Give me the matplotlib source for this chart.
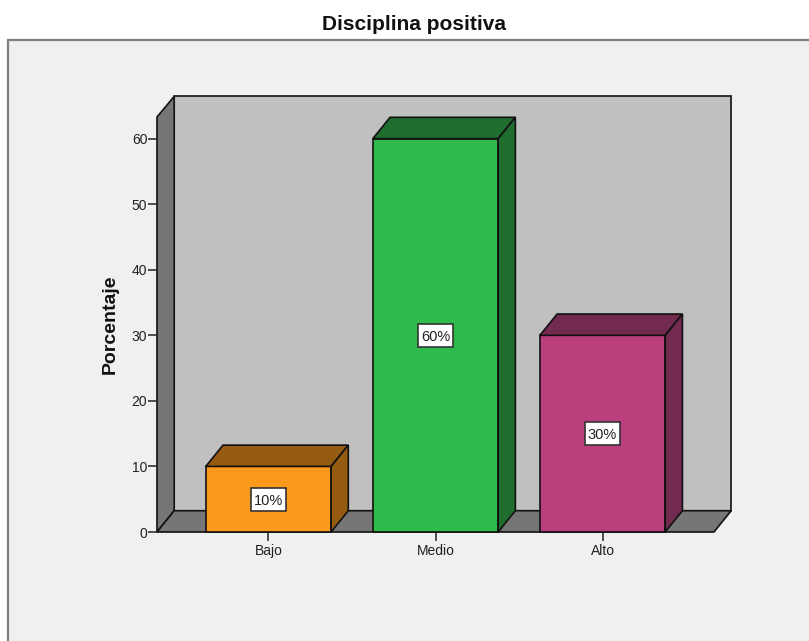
import matplotlib
matplotlib.use('Agg')
import matplotlib.pyplot as plt
from matplotlib.patches import Polygon, Rectangle

categorias = ['Bajo', 'Medio', 'Alto']
porcentajes = [10, 60, 30]
etiquetas = ['10%', '60%', '30%']
yticks = [0, 10, 20, 30, 40, 50, 60]
colores = ['#fb991c', '#2fba4c', '#ba3f7c']
oscuros = ['#955b11', '#1f6e2e', '#722a4e']

W, H = 809, 641
plt.rcParams['font.family'] = ['Liberation Sans', 'DejaVu Sans']

fig = plt.figure(figsize=(W / 100, H / 100), dpi=100, facecolor='white')

# panel gris de fondo, se sale por la derecha y por abajo
fig.add_artist(Rectangle((8 / W, -0.1), 1.1, 1.1 - 40 / H, transform=fig.transFigure,
                         facecolor='#f0f0f0', edgecolor='#808080', linewidth=1.6, zorder=-1))

# ejes: 157-714 px en x, 532-117 px en y
ax = fig.add_axes([157 / W, 1 - 532 / H, (714 - 157) / W, (532 - 117) / H])
ax.set_xlim(-0.667, 2.667)
ax.set_ylim(0, 63.3)
ax.patch.set_visible(False)
for s in ax.spines.values():
    s.set_visible(False)

dx = 0.103   # profundidad 3d
dy = 3.25
ancho = 0.75
x0, x1 = ax.get_xlim()
top = ax.get_ylim()[1]
lw = 1.2

# pared del fondo, pared izquierda, suelo
ax.add_patch(Polygon([(x0 + dx, dy), (x1 + dx, dy), (x1 + dx, top + dy - 0.1), (x0 + dx, top + dy - 0.1)],
                     closed=True, fc='#c0c0c0', ec='#111111', lw=lw, clip_on=False, zorder=1))
ax.add_patch(Polygon([(x0, 0), (x0 + dx, dy), (x0 + dx, top + dy - 0.1), (x0, top)],
                     closed=True, fc='#767676', ec='#111111', lw=lw, clip_on=False, zorder=1))
ax.add_patch(Polygon([(x0, 0), (x1, 0), (x1 + dx, dy), (x0 + dx, dy)],
                     closed=True, fc='#767676', ec='#111111', lw=lw, clip_on=False, zorder=1))

# caja de la etiqueta, en unidades de datos
caja_w = 0.205
caja_h = 3.5

for i, v in enumerate(porcentajes):
    l = i - ancho / 2
    r = i + ancho / 2
    ax.add_patch(Rectangle((l, 0), ancho, v, fc=colores[i], ec='#111111', lw=lw,
                           clip_on=False, zorder=3))
    ax.add_patch(Polygon([(l, v), (r, v), (r + dx, v + dy), (l + dx, v + dy)], closed=True,
                         fc=oscuros[i], ec='#111111', lw=lw, clip_on=False, zorder=3))
    ax.add_patch(Polygon([(r, 0), (r + dx, dy), (r + dx, v + dy), (r, v)], closed=True,
                         fc=oscuros[i], ec='#111111', lw=lw, clip_on=False, zorder=3))
    ax.add_patch(Rectangle((i - caja_w / 2, v / 2 - caja_h / 2), caja_w, caja_h, fc='white',
                           ec='#333333', lw=1.2, zorder=4))
    ax.text(i, v / 2, etiquetas[i], ha='center', va='center_baseline', fontsize=10.5,
            color='#222222', zorder=5)

ax.set_xticks(range(len(categorias)))
ax.set_xticklabels(categorias)
ax.set_yticks(yticks)
ax.tick_params(axis='x', length=6.5, width=1.1, color='#222222', labelsize=10,
               labelcolor='#222222', pad=2)
ax.tick_params(axis='y', length=6.5, width=1.1, color='#222222', labelsize=10,
               labelcolor='#222222', pad=0.5)

fig.text(110 / W, 1 - 324.5 / H, 'Porcentaje', rotation=90, ha='center', va='center',
         fontsize=14, fontweight='bold', color='#111111')
fig.text(414 / W, 1 - 24 / H, 'Disciplina positiva', ha='center', va='center',
         fontsize=15, fontweight='bold', color='#111111')

fig.savefig('out.png', dpi=100)
